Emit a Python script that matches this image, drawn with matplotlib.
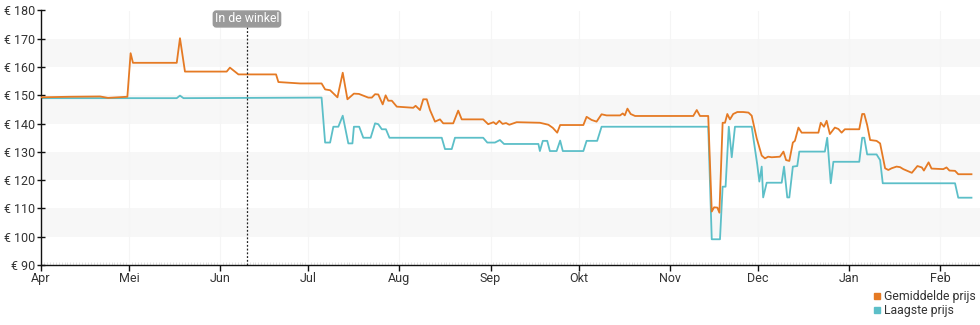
import matplotlib.pyplot as plt
import matplotlib.dates as mdates
from matplotlib.lines import Line2D
import pandas as pd

plt.rcParams['font.family'] = ['Roboto', 'DejaVu Sans']

start = pd.Timestamp('2023-04-01')

# gemiddelde prijs: dagen sinds 1 april, prijs in euro
gem_dagen = [0, 9.9, 20.1, 22.8, 29.4, 30.5, 31.3, 46.2, 47.3, 49.0, 63.2, 64.3, 67.2,
             80.0, 80.8, 88.2, 95.5, 96.7, 98.4, 100.9, 102.7, 104.3, 106.5, 108.2,
             111.4, 112.6, 113.7, 114.8, 116.3, 117.3, 118.2, 119.4, 121.1, 126.7,
             127.5, 129.0, 130.1, 131.3, 132.4, 134.1, 135.8, 136.9, 140.3, 142.0,
             143.2, 150.5, 152.2, 154.0, 154.9, 156.0, 157.1, 158.3, 159.4, 161.9,
             169.8, 172.7, 174.2, 175.7, 176.7, 184.6, 185.7, 187.4, 189.1, 190.8,
             192.5, 197.1, 198.0, 198.7, 199.6, 200.7, 202.2, 222.0, 223.2, 224.3,
             227.1, 228.3, 229.1, 230.2, 230.9, 232.0, 232.8, 233.6, 234.5, 235.6,
             237.0, 239.0, 240.8, 241.9, 243.6, 245.3, 246.4, 247.5, 248.7, 251.5,
             252.7, 253.6, 254.7, 255.9, 256.6, 257.8, 258.9, 264.6, 265.4, 266.5,
             267.4, 268.5, 270.2, 271.4, 272.5, 273.6, 278.5, 279.5, 280.2, 281.2,
             282.2, 284.4, 285.6, 287.3, 288.4, 289.5, 291.2, 292.4, 293.5, 296.4,
             298.3, 299.8, 300.5, 302.1, 303.1, 307.1, 308.2, 309.2, 311.1, 312.2,
             316.7]
gem_prijs = [149.3, 149.5, 149.6, 149.1, 149.5, 164.9, 161.5, 161.5, 170.2, 158.4, 158.4,
             159.8, 157.4, 157.4, 154.7, 154.2, 154.2, 152.1, 151.8, 149.3, 158.0,
             148.6, 150.6, 150.5, 149.2, 149.2, 150.4, 150.3, 146.8, 150.0, 148.1,
             148.1, 146.0, 145.6, 146.3, 144.8, 148.6, 148.6, 144.8, 140.7, 141.5,
             140.1, 140.1, 144.6, 141.5, 141.5, 139.8, 140.5, 139.8, 141.0, 139.9,
             140.2, 139.6, 140.5, 140.3, 139.6, 138.5, 136.8, 139.5, 139.5, 142.4,
             141.3, 140.7, 143.3, 142.9, 142.9, 143.6, 142.9, 145.3, 143.4, 142.7,
             142.7, 144.8, 142.7, 142.7, 108.9, 110.4, 110.3, 108.5, 140.3, 140.3,
             143.4, 141.5, 143.4, 144.1, 144.1, 143.9, 142.8, 134.8, 128.7, 127.7,
             128.3, 128.1, 128.3, 130.1, 127.1, 126.8, 133.3, 133.9, 138.6, 136.8,
             136.8, 140.3, 138.9, 141.0, 136.3, 138.6, 138.1, 136.8, 138.0, 138.0,
             143.4, 143.4, 139.5, 134.2, 133.9, 133.0, 124.2, 123.6, 124.2, 124.8,
             124.6, 123.9, 122.6, 125.0, 124.5, 123.4, 126.3, 124.1, 123.9, 124.5,
             123.4, 123.3, 122.1, 122.1]

# laagste prijs
laag_dagen = [0, 46.2, 47.3, 48.5, 95.5, 96.7, 98.4, 99.5, 101.2, 102.7, 104.6, 106.0,
              106.5, 108.3, 109.7, 112.2, 113.7, 114.8, 116.0, 117.4, 118.6, 136.4,
              137.5, 139.8, 140.9, 150.5, 151.9, 154.5, 156.2, 157.6, 169.3, 169.8,
              170.8, 172.3, 173.2, 175.5, 176.7, 177.6, 184.6, 185.7, 189.3, 190.8,
              227.1, 228.3, 231.1, 232.0, 233.0, 234.1, 235.1, 236.2, 241.9, 243.8,
              244.5, 245.3, 245.8, 247.0, 252.1, 252.9, 254.0, 254.7, 255.9, 257.4,
              258.1, 266.8, 267.6, 268.8, 269.7, 278.5, 279.5, 280.2, 281.2, 284.4,
              285.6, 286.5, 311.1, 312.2, 316.7]
laag_prijs = [149.0, 149.0, 149.9, 149.0, 149.2, 133.3, 133.3, 138.9, 138.9, 142.8,
              133.0, 133.0, 138.9, 138.9, 135.0, 135.0, 140.1, 139.8, 138.0, 138.0,
              135.0, 135.0, 131.0, 131.0, 135.0, 135.0, 133.3, 133.3, 134.2, 132.8,
              132.8, 130.3, 133.9, 133.9, 130.3, 130.3, 134.0, 130.3, 130.3, 133.9,
              133.9, 138.9, 138.9, 99.1, 99.1, 117.7, 117.7, 138.9, 128.1, 138.9,
              138.9, 125.4, 119.5, 124.8, 113.9, 119.1, 119.1, 124.8, 113.9, 113.9,
              124.8, 125.0, 130.1, 130.1, 135.0, 118.9, 126.5, 126.5, 135.0, 135.0,
              129.1, 129.1, 127.1, 118.9, 118.9, 113.8, 113.8]

winkel_dag = 70.1
maanden = ['Apr', 'Mei', 'Jun', 'Jul', 'Aug', 'Sep', 'Okt', 'Nov', 'Dec', 'Jan', 'Feb']

oranje = '#e57a24'
turkoois = '#5cbfc8'

gem_x = start + pd.to_timedelta(gem_dagen, unit='D')
laag_x = start + pd.to_timedelta(laag_dagen, unit='D')

fig = plt.figure(figsize=(9.8, 3.25), dpi=100)
ax = fig.add_axes([41 / 980, 1 - 265 / 325, 1 - 41 / 980, (265 - 10.5) / 325])

# lichtgrijze banden om de 20 euro
for lo in range(100, 180, 20):
    ax.axhspan(lo, lo + 10, color='#f7f7f7', lw=0, zorder=0)

maand_starts = pd.date_range('2023-04-01', periods=len(maanden), freq='MS')
for m in maand_starts[1:]:
    ax.axvline(m, color='#f5f5f5', lw=0.8, zorder=0)

ax.plot(gem_x, gem_prijs, color=oranje, lw=1.3, zorder=3)
ax.plot(laag_x, laag_prijs, color=turkoois, lw=1.3, zorder=2)

# markering "In de winkel"
winkel_x = start + pd.Timedelta(days=winkel_dag)
ax.axvline(winkel_x, color='#222222', lw=0.9, ls=(0, (1.5, 1.5)), zorder=4)
ax.text(winkel_x, 177, 'In de winkel', ha='center', va='center', fontsize=8.8,
        color='white', zorder=5,
        bbox=dict(boxstyle='round,pad=0.12,rounding_size=0.25', fc='#9a9a9a', ec='#9a9a9a'))

ax.set_ylim(90, 180)
ax.set_xlim(start, start + pd.Timedelta(days=319.6))
ax.set_yticks(range(90, 181, 10))
ax.set_yticklabels([f'€ {v}' for v in range(90, 181, 10)])
ax.set_xticks(maand_starts)
ax.set_xticklabels(maanden)
ax.xaxis.set_minor_locator(mdates.DayLocator())

for s in ['top', 'right']:
    ax.spines[s].set_visible(False)
for s in ['left', 'bottom']:
    ax.spines[s].set_color('#111111')
    ax.spines[s].set_linewidth(1.0)

ax.tick_params(axis='y', direction='inout', length=6, width=1, colors='#111111',
               labelsize=9, labelcolor='#333333', pad=1)
ax.tick_params(axis='x', which='major', direction='out', length=4, width=1,
               colors='#111111', labelsize=9, labelcolor='#333333', pad=1)
ax.tick_params(axis='x', which='minor', direction='in', length=2, width=0.4,
               colors='#cccccc')

handles = [Line2D([], [], ls='none', marker='s', ms=5, color=oranje),
           Line2D([], [], ls='none', marker='s', ms=5, color=turkoois)]
fig.legend(handles, ['Gemiddelde prijs', 'Laagste prijs'], loc='upper left',
           bbox_to_anchor=(873 / 980, 1 - 290 / 325), frameon=False, fontsize=8.8,
           handlelength=0.6, handletextpad=0.3, labelspacing=0.1, borderpad=0,
           borderaxespad=0, labelcolor='#333333')

fig.savefig('out.png', dpi=100)
